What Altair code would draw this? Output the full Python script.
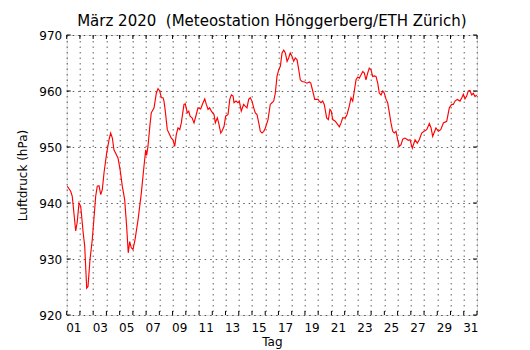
import altair as alt
import pandas as pd

# Tag (fractional day of month, 1.0 = 1 March 00:00) and Luftdruck (hPa)
tag = [1.05, 1.30, 1.42, 1.68, 1.80, 1.93, 2.06, 2.25, 2.36, 2.51, 2.61, 2.76, 2.93,
       3.19, 3.31, 3.44, 3.57, 3.69, 3.82, 4.02, 4.20, 4.32, 4.45, 4.57, 4.70, 4.88,
       5.03, 5.20, 5.38, 5.53, 5.65, 5.76, 5.88, 6.01, 6.16, 6.39, 6.64, 6.84, 6.97,
       7.04, 7.14, 7.29, 7.39, 7.60, 7.77, 7.90, 8.03, 8.15, 8.28, 8.35, 8.45, 8.60,
       8.78, 8.90, 9.03, 9.16, 9.28, 9.41, 9.54, 9.66, 9.86, 9.96, 10.11, 10.22, 10.32,
       10.47, 10.62, 10.79, 10.92, 11.12, 11.30, 11.43, 11.55, 11.68, 11.80, 11.93,
       12.13, 12.23, 12.38, 12.48, 12.64, 12.73, 12.89, 13.01, 13.19, 13.32, 13.44,
       13.57, 13.64, 13.79, 13.94, 14.04, 14.19, 14.37, 14.49, 14.62, 14.75, 14.87,
       15.00, 15.13, 15.25, 15.38, 15.51, 15.63, 15.76, 15.89, 16.01, 16.21, 16.38,
       16.51, 16.64, 16.76, 16.89, 17.02, 17.14, 17.27, 17.40, 17.52, 17.65, 17.77,
       17.89, 18.02, 18.15, 18.27, 18.40, 18.53, 18.65, 18.78, 18.98, 19.16, 19.33,
       19.44, 19.59, 19.74, 19.99, 20.09, 20.21, 20.34, 20.46, 20.64, 20.77, 20.89,
       20.99, 21.10, 21.29, 21.48, 21.60, 21.73, 21.85, 22.05, 22.18, 22.35, 22.48,
       22.61, 22.73, 22.86, 22.99, 23.11, 23.24, 23.37, 23.49, 23.61, 23.74, 23.86,
       23.99, 24.12, 24.24, 24.37, 24.50, 24.62, 24.75, 24.88, 25.00, 25.13, 25.25,
       25.38, 25.50, 25.63, 25.75, 25.88, 26.01, 26.13, 26.26, 26.39, 26.56, 26.81,
       26.94, 27.11, 27.32, 27.49, 27.64, 27.82, 28.00, 28.20, 28.40, 28.53, 28.65,
       28.75, 28.90, 29.08, 29.26, 29.46, 29.71, 29.91, 30.09, 30.21, 30.34, 30.51,
       30.72, 30.85, 30.97, 31.09, 31.22, 31.34, 31.47, 31.60, 31.72, 31.85, 31.98]

druck = [943.0, 942.1, 941.2, 935.0, 936.7, 940.0, 939.4, 934.6, 932.3, 924.8, 925.1, 929.9, 933.4,
         941.2, 943.0, 943.1, 941.5, 942.4, 945.4, 948.9, 951.3, 952.5, 951.6, 949.5, 948.9, 948.0,
         946.0, 943.0, 940.6, 935.8, 931.1, 933.1, 932.0, 931.7, 933.4, 937.0, 941.8, 946.6, 949.5,
         948.5, 950.1, 953.9, 956.1, 957.0, 959.6, 960.4, 960.0, 958.8, 958.8, 958.2, 956.4, 953.1,
         952.2, 951.6, 951.3, 950.1, 952.2, 953.4, 953.1, 954.3, 957.6, 957.7, 956.1, 956.4, 955.5,
         955.2, 954.3, 955.8, 957.0, 956.8, 957.9, 958.6, 957.6, 956.7, 957.0, 956.4,
         955.8, 954.3, 955.2, 954.3, 952.5, 952.8, 953.7, 955.5, 955.8, 958.5, 959.3,
         959.1, 957.9, 958.2, 957.9, 958.2, 956.4, 957.6, 957.3, 957.0, 958.5, 958.8,
         958.2, 957.0, 956.1, 955.8, 954.3, 952.8, 952.5, 952.8, 953.4, 954.9, 957.6,
         957.9, 958.2, 959.6, 962.6, 963.8, 964.4, 966.8, 967.3, 966.8, 965.3, 965.9,
         966.8, 966.2, 965.3, 965.9, 965.6, 963.8, 962.0, 961.7, 961.6, 961.4, 961.6,
         961.4, 960.0, 958.5, 958.5, 958.2, 957.9, 958.2, 957.6, 955.2, 954.9, 956.7,
         956.4, 954.9, 954.6, 954.0, 953.6, 954.3, 955.2, 955.2, 955.8, 957.3, 958.8,
         958.2, 960.0, 962.0, 962.5, 962.3, 962.9, 963.5, 963.2, 962.0, 963.2, 964.1,
         963.8, 962.6, 962.7, 962.6, 961.4, 959.6, 959.3, 960.0, 959.6, 958.5, 957.9,
         956.1, 954.3, 952.8, 952.5, 952.8, 951.3, 950.1, 950.4, 951.4, 951.6, 951.2,
         951.3, 949.8, 951.3, 950.7, 951.3, 952.5, 952.8, 953.1, 954.2, 953.4, 951.9,
         952.5, 953.4, 952.8, 953.1, 954.3, 954.6, 957.0, 957.6, 957.6, 958.2, 958.5,
         958.2, 958.8, 959.4, 958.6, 959.1, 960.0, 960.1, 959.3, 959.6, 959.0, 959.3]

tag_ticks = list(range(1, 33))
druck_ticks = [920, 930, 940, 950, 960, 970]

W = 410.3
H = 280

df = pd.DataFrame({"tag": tag, "druck": druck})
df_xt = pd.DataFrame({"tag": tag_ticks})
df_yt = pd.DataFrame({"druck": druck_ticks})

xscale = alt.Scale(domain=[1, 32], nice=False, zero=False)
yscale = alt.Scale(domain=[920, 970], nice=False, zero=False)

label_expr = ("datum.value % 2 == 1 && datum.value < 32 ? "
              "(datum.value < 10 ? '0' + datum.value : '' + datum.value) : ''")

x_axis = alt.Axis(values=tag_ticks, labelExpr=label_expr, labelOffset=6.6,
                  title="Tag", ticks=False, domain=False, grid=True,
                  gridDash=[1.5, 4], gridColor="#000000", gridOpacity=0.7,
                  gridWidth=0.9, labelPadding=7, labelFlush=False,
                  labelOverlap=False, labelFont="DejaVu Sans", labelFontSize=12,
                  labelColor="#000000", titleFont="DejaVu Sans",
                  titleFontSize=12, titleFontWeight="normal", titleColor="#000000",
                  titleY=30.7, titleBaseline="alphabetic")
y_axis = alt.Axis(values=druck_ticks, title="Luftdruck (hPa)", ticks=False,
                  domain=False, grid=True, gridDash=[1.5, 4], gridColor="#000000",
                  gridOpacity=0.7, gridWidth=0.9, labelPadding=5,
                  labelFont="DejaVu Sans", labelFontSize=12, labelColor="#000000",
                  titleFont="DejaVu Sans", titleFontSize=12,
                  titleFontWeight="normal", titleColor="#000000",
                  titleX=-43.7, titleY=140, titleAngle=-90, titleAlign="center",
                  titleBaseline="middle")

line = alt.Chart(df).mark_line(color="#ff0000", strokeWidth=1.15, clip=True).encode(
    x=alt.X("tag:Q", scale=xscale, axis=x_axis),
    y=alt.Y("druck:Q", scale=yscale, axis=y_axis),
)

tick_b = alt.Chart(df_xt).mark_rule(color="#000000", strokeWidth=1).encode(
    x=alt.X("tag:Q", scale=xscale, axis=x_axis), y=alt.value(H), y2=alt.value(H - 4))
tick_t = alt.Chart(df_xt).mark_rule(color="#000000", strokeWidth=1).encode(
    x=alt.X("tag:Q", scale=xscale, axis=x_axis), y=alt.value(0), y2=alt.value(4))
tick_l = alt.Chart(df_yt).mark_rule(color="#000000", strokeWidth=1).encode(
    y=alt.Y("druck:Q", scale=yscale, axis=y_axis), x=alt.value(0), x2=alt.value(4))
tick_r = alt.Chart(df_yt).mark_rule(color="#000000", strokeWidth=1).encode(
    y=alt.Y("druck:Q", scale=yscale, axis=y_axis), x=alt.value(W), x2=alt.value(W - 4))

chart = alt.layer(line, tick_b, tick_t, tick_l, tick_r).properties(
    width=W, height=H,
    title=alt.TitleParams("März 2020\u00a0 (Meteostation Hönggerberg/ETH Zürich)",
                          font="DejaVu Sans", fontSize=15, fontWeight="normal",
                          color="#000000", anchor="middle", baseline="alphabetic",
                          offset=7, dy=19),
    autosize=alt.AutoSizeParams(type="none"),
    padding={"left": 58.7, "top": 27, "right": 30, "bottom": 34},
).configure_view(stroke="#000000", strokeWidth=1.2).configure(background="#ffffff")

chart.save("out.html", embed_options={"renderer": "svg", "actions": False})
